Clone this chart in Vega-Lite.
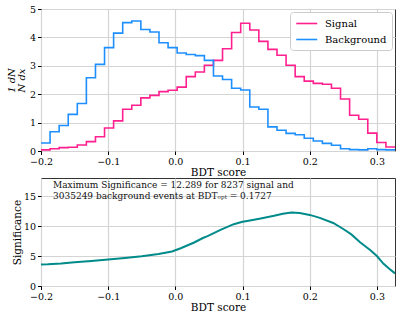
{
  "$schema": "https://vega.github.io/schema/vega-lite/v6.json",
  "padding": {"left": 5, "top": 3, "right": 5, "bottom": 3},
  "spacing": -3,
  "datasets": {
    "hist": [
      {"x": -0.2, "v": 0.04, "cls": "Signal"},
      {"x": -0.18649, "v": 0.08, "cls": "Signal"},
      {"x": -0.17297, "v": 0.12, "cls": "Signal"},
      {"x": -0.15946, "v": 0.13, "cls": "Signal"},
      {"x": -0.14595, "v": 0.21, "cls": "Signal"},
      {"x": -0.13244, "v": 0.33, "cls": "Signal"},
      {"x": -0.11892, "v": 0.5, "cls": "Signal"},
      {"x": -0.10541, "v": 0.81, "cls": "Signal"},
      {"x": -0.0919, "v": 1.06, "cls": "Signal"},
      {"x": -0.07838, "v": 1.47, "cls": "Signal"},
      {"x": -0.06487, "v": 1.61, "cls": "Signal"},
      {"x": -0.05136, "v": 1.87, "cls": "Signal"},
      {"x": -0.03784, "v": 1.96, "cls": "Signal"},
      {"x": -0.02433, "v": 2.09, "cls": "Signal"},
      {"x": -0.01082, "v": 2.14, "cls": "Signal"},
      {"x": 0.0027, "v": 2.25, "cls": "Signal"},
      {"x": 0.01621, "v": 2.62, "cls": "Signal"},
      {"x": 0.02972, "v": 2.78, "cls": "Signal"},
      {"x": 0.04323, "v": 3.02, "cls": "Signal"},
      {"x": 0.05675, "v": 3.19, "cls": "Signal"},
      {"x": 0.07026, "v": 3.6, "cls": "Signal"},
      {"x": 0.08377, "v": 4.17, "cls": "Signal"},
      {"x": 0.09729, "v": 4.5, "cls": "Signal"},
      {"x": 0.1108, "v": 4.26, "cls": "Signal"},
      {"x": 0.12431, "v": 3.86, "cls": "Signal"},
      {"x": 0.13783, "v": 3.58, "cls": "Signal"},
      {"x": 0.15134, "v": 3.37, "cls": "Signal"},
      {"x": 0.16485, "v": 3.02, "cls": "Signal"},
      {"x": 0.17836, "v": 2.62, "cls": "Signal"},
      {"x": 0.19188, "v": 2.46, "cls": "Signal"},
      {"x": 0.20539, "v": 2.38, "cls": "Signal"},
      {"x": 0.2189, "v": 2.35, "cls": "Signal"},
      {"x": 0.23242, "v": 2.21, "cls": "Signal"},
      {"x": 0.24593, "v": 1.83, "cls": "Signal"},
      {"x": 0.25944, "v": 1.26, "cls": "Signal"},
      {"x": 0.27296, "v": 1.12, "cls": "Signal"},
      {"x": 0.28647, "v": 0.63, "cls": "Signal"},
      {"x": 0.29998, "v": 0.3, "cls": "Signal"},
      {"x": 0.3135, "v": 0.14, "cls": "Signal"},
      {"x": 0.32701, "v": 0.14, "cls": "Signal"},
      {"x": -0.2, "v": 0.28, "cls": "Background"},
      {"x": -0.18649, "v": 0.68, "cls": "Background"},
      {"x": -0.17297, "v": 0.9, "cls": "Background"},
      {"x": -0.15946, "v": 1.29, "cls": "Background"},
      {"x": -0.14595, "v": 1.67, "cls": "Background"},
      {"x": -0.13244, "v": 2.58, "cls": "Background"},
      {"x": -0.11892, "v": 3.05, "cls": "Background"},
      {"x": -0.10541, "v": 3.64, "cls": "Background"},
      {"x": -0.0919, "v": 4.15, "cls": "Background"},
      {"x": -0.07838, "v": 4.52, "cls": "Background"},
      {"x": -0.06487, "v": 4.58, "cls": "Background"},
      {"x": -0.05136, "v": 4.28, "cls": "Background"},
      {"x": -0.03784, "v": 4.19, "cls": "Background"},
      {"x": -0.02433, "v": 3.81, "cls": "Background"},
      {"x": -0.01082, "v": 3.64, "cls": "Background"},
      {"x": 0.0027, "v": 3.45, "cls": "Background"},
      {"x": 0.01621, "v": 3.4, "cls": "Background"},
      {"x": 0.02972, "v": 3.36, "cls": "Background"},
      {"x": 0.04323, "v": 3.19, "cls": "Background"},
      {"x": 0.05675, "v": 2.64, "cls": "Background"},
      {"x": 0.07026, "v": 2.52, "cls": "Background"},
      {"x": 0.08377, "v": 2.21, "cls": "Background"},
      {"x": 0.09729, "v": 2.15, "cls": "Background"},
      {"x": 0.1108, "v": 1.55, "cls": "Background"},
      {"x": 0.12431, "v": 1.47, "cls": "Background"},
      {"x": 0.13783, "v": 0.85, "cls": "Background"},
      {"x": 0.15134, "v": 0.73, "cls": "Background"},
      {"x": 0.16485, "v": 0.62, "cls": "Background"},
      {"x": 0.17836, "v": 0.57, "cls": "Background"},
      {"x": 0.19188, "v": 0.45, "cls": "Background"},
      {"x": 0.20539, "v": 0.35, "cls": "Background"},
      {"x": 0.2189, "v": 0.27, "cls": "Background"},
      {"x": 0.23242, "v": 0.2, "cls": "Background"},
      {"x": 0.24593, "v": 0.08, "cls": "Background"},
      {"x": 0.25944, "v": 0.05, "cls": "Background"},
      {"x": 0.27296, "v": 0.04, "cls": "Background"},
      {"x": 0.28647, "v": 0.08, "cls": "Background"},
      {"x": 0.29998, "v": 0.05, "cls": "Background"},
      {"x": 0.3135, "v": 0.04, "cls": "Background"},
      {"x": 0.32701, "v": 0.04, "cls": "Background"}
    ],
    "sig": [
      {"x": -0.2, "s": 3.6},
      {"x": -0.19, "s": 3.62},
      {"x": -0.17, "s": 3.75},
      {"x": -0.15, "s": 3.95},
      {"x": -0.125, "s": 4.15},
      {"x": -0.1, "s": 4.4},
      {"x": -0.075, "s": 4.65},
      {"x": -0.05, "s": 4.95},
      {"x": -0.025, "s": 5.35},
      {"x": -0.005, "s": 5.75},
      {"x": 0.008, "s": 6.3},
      {"x": 0.028, "s": 7.25},
      {"x": 0.041, "s": 8.0},
      {"x": 0.048, "s": 8.3},
      {"x": 0.068, "s": 9.4},
      {"x": 0.087, "s": 10.3},
      {"x": 0.1, "s": 10.7},
      {"x": 0.107, "s": 10.85},
      {"x": 0.127, "s": 11.25},
      {"x": 0.147, "s": 11.7},
      {"x": 0.16, "s": 12.05},
      {"x": 0.1727, "s": 12.25},
      {"x": 0.185, "s": 12.15},
      {"x": 0.2, "s": 11.85},
      {"x": 0.215, "s": 11.35},
      {"x": 0.235, "s": 10.5},
      {"x": 0.25, "s": 9.5},
      {"x": 0.262, "s": 8.6},
      {"x": 0.275, "s": 7.3},
      {"x": 0.29, "s": 6.0},
      {"x": 0.3, "s": 5.0},
      {"x": 0.31, "s": 3.7},
      {"x": 0.318, "s": 2.9},
      {"x": 0.327, "s": 2.1}
    ]
  },
  "vconcat": [
    {
      "width": 354,
      "height": 142,
      "data": {"name": "hist"},
      "mark": {"type": "line", "interpolate": "step-after", "strokeWidth": 1.6, "clip": true},
      "encoding": {
        "x": {"field": "x", "type": "quantitative", "scale": {"domain": [-0.2, 0.327], "nice": false, "zero": false}, "axis": {"values": [-0.2, -0.1, 0, 0.1, 0.2, 0.3], "format": ".1f", "title": "BDT score"}},
        "y": {"field": "v", "type": "quantitative", "scale": {"domain": [0, 5], "nice": false}, "axis": {"values": [0, 1, 2, 3, 4, 5], "format": "d", "title": ["1 dN", "N dx"], "titleFontStyle": "italic", "titleLineHeight": 10, "titleFontSize": 10, "titlePadding": 3}},
        "color": {"field": "cls", "type": "nominal", "scale": {"domain": ["Signal", "Background"], "range": ["#ff1f8f", "#1e8fff"]}, "legend": {"title": null, "orient": "top-right", "offset": 3, "symbolType": "M-1,0H3", "symbolStrokeWidth": 1.6, "symbolSize": 110, "labelFont": "DejaVu Serif", "labelFontSize": 10, "labelColor": "#000", "labelOffset": 17, "fillColor": "white", "strokeColor": "#cccccc", "cornerRadius": 3, "padding": 5, "rowPadding": 4}}
      }
    },
    {
      "width": 354,
      "height": 108,
      "title": {"text": ["Maximum Significance = 12.289 for 8237 signal and", "3035249 background events at BDTₒₚₜ = 0.1727"], "orient": "top", "anchor": "start", "frame": "group", "offset": -23, "dx": 12, "font": "DejaVu Serif", "fontSize": 9, "fontWeight": "normal", "lineHeight": 11.5, "color": "#111"},
      "data": {"name": "sig"},
      "mark": {"type": "line", "color": "#008b8b", "strokeWidth": 2, "clip": true},
      "encoding": {
        "x": {"field": "x", "type": "quantitative", "scale": {"domain": [-0.2, 0.327], "nice": false, "zero": false}, "axis": {"values": [-0.2, -0.1, 0, 0.1, 0.2, 0.3], "format": ".1f", "title": "BDT score"}},
        "y": {"field": "s", "type": "quantitative", "scale": {"domain": [0, 18], "nice": false}, "axis": {"values": [0, 5, 10, 15], "format": "d", "title": "Significance"}}
      }
    }
  ],
  "config": {
    "view": {"stroke": "#333333", "strokeWidth": 1},
    "axis": {
      "domain": false,
      "grid": true,
      "gridColor": "#d4d4d4",
      "gridWidth": 1.2,
      "tickColor": "#000",
      "tickSize": 3.5,
      "labelFont": "DejaVu Serif",
      "labelFontSize": 9.5,
      "labelColor": "#000",
      "labelPadding": 2,
      "labelFlush": false,
      "labelOverlap": false,
      "titleFont": "DejaVu Serif",
      "titleFontSize": 10.5,
      "titleFontWeight": "normal",
      "titleColor": "#000",
      "titlePadding": 1
    }
  }
}
